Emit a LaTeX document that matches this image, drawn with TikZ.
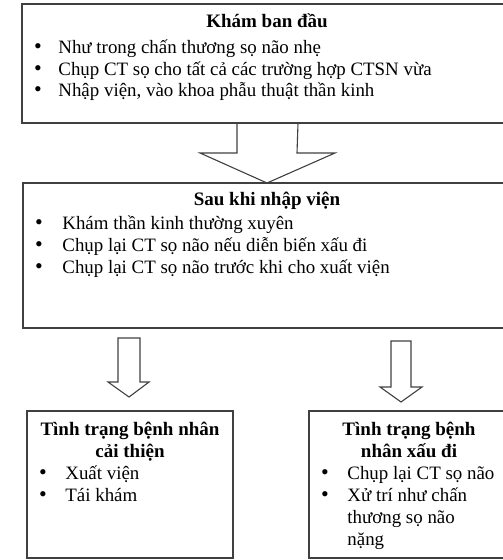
\documentclass[tikz,border=0pt]{standalone}
\usepackage{fontspec}
\setmainfont{Liberation Serif}
\usetikzlibrary{calc}
\tikzset{
  box/.style={draw=black!75, line width=0.65pt, inner sep=0pt, outer sep=0pt, anchor=north west},
  hollow/.style={draw=black!75, line width=0.55pt, line join=miter},
  boxtitle/.style={font=\fontsize{9.5}{11}\selectfont\bfseries, anchor=base},
  entry/.style={anchor=base west, inner sep=0pt},
  dot/.style={anchor=base, inner sep=0pt, font=\fontsize{11}{11}\selectfont}
}

\begin{document}
\begin{tikzpicture}[x=0.5pt,y=-0.5pt,font=\fontsize{9.45}{11}\selectfont]
    \useasboundingbox (0,0) rectangle (502,560);
    % boxes
    \node[box, minimum width=245pt, minimum height=59.5pt] (kham) at (22,4) {};
    \node[box, minimum width=244pt, minimum height=72.5pt] (sau) at (23,183) {};
    \node[box, minimum width=103pt, minimum height=73.5pt] (caithien) at (27,411) {};
    \node[box, minimum width=100pt, minimum height=73.5pt] (xaudi) at (309,411) {};

    % first box
    \node[boxtitle] (khamtitle) at (267,28) {Khám ban đầu};
    \foreach \t [count=\i] in {Như trong chấn thương sọ não nhẹ,
                               Chụp CT sọ cho tất cả các trường hợp CTSN vừa,
                               {Nhập viện, vào khoa phẫu thuật thần kinh}}
    {
        \node[dot] (khamdot\i) at (38,{54+21.5*(\i-1)}) {\textbullet};
        \node[entry] (kham\i) at (58,{54+21.5*(\i-1)}) {\t};
    }

    % second box
    \node[boxtitle] (sautitle) at (267,206) {Sau khi nhập viện};
    \foreach \t [count=\i] in {Khám thần kinh thường xuyên,
                               Chụp lại CT sọ não nếu diễn biến xấu đi,
                               Chụp lại CT sọ não trước khi cho xuất viện}
    {
        \node[dot] (saudot\i) at (39,{230+22*(\i-1)}) {\textbullet};
        \node[entry] (sau\i) at (62,{230+22*(\i-1)}) {\t};
    }

    % outcomes
    \node[boxtitle] (caithientitle1) at (130,435) {Tình trạng bệnh nhân};
    \node[boxtitle] (caithientitle2) at (130,457) {cải thiện};
    \node[dot] (caithiendot1) at (43,479) {\textbullet};
    \node[entry] (caithien1) at (65,479) {Xuất viện};
    \node[dot] (caithiendot2) at (43,501) {\textbullet};
    \node[entry] (caithien2) at (65,501) {Tái khám};

    \node[boxtitle] (xaudititle1) at (409,435) {Tình trạng bệnh};
    \node[boxtitle] (xaudititle2) at (409,457) {nhân xấu đi};
    \node[dot] (xaudidot1) at (325,479) {\textbullet};
    \node[entry] (xaudi1) at (347,479) {Chụp lại CT sọ não};
    \node[dot] (xaudidot2) at (325,501) {\textbullet};
    \node[entry] (xaudi2) at (347,501) {Xử trí như chấn};
    \node[entry] (xaudi3) at (347,523) {thương sọ não};
    \node[entry] (xaudi4) at (347,545) {nặng};

    % hollow arrows
    \draw[hollow] ($(kham.south)+(-30,0)$) -- ++(0,30) -- ++(-37,0)
                  -- (sau.north) -- ++(68,-30) -- ++(-38,0) -- ($(kham.south)+(31,0)$);
    \coordinate (lefttop) at (129,338);
    \coordinate (lefttip) at (129,397);
    \draw[hollow] ($(lefttop)+(-11,0)$) -- ($(lefttop)+(-11,44)$) -- ($(lefttip)+(-21,-15)$)
                  -- (lefttip) -- ($(lefttip)+(20,-15)$) -- ($(lefttop)+(11,44)$)
                  -- ($(lefttop)+(11,0)$) -- cycle;
    \coordinate (righttop) at (401,341);
    \coordinate (righttip) at (401,402);
    \draw[hollow] ($(righttop)+(-10,0)$) -- ($(righttop)+(-10,46)$) -- ($(righttip)+(-21,-15)$)
                  -- (righttip) -- ($(righttip)+(21,-15)$) -- ($(righttop)+(10,46)$)
                  -- ($(righttop)+(10,0)$) -- cycle;
\end{tikzpicture}
\end{document}
